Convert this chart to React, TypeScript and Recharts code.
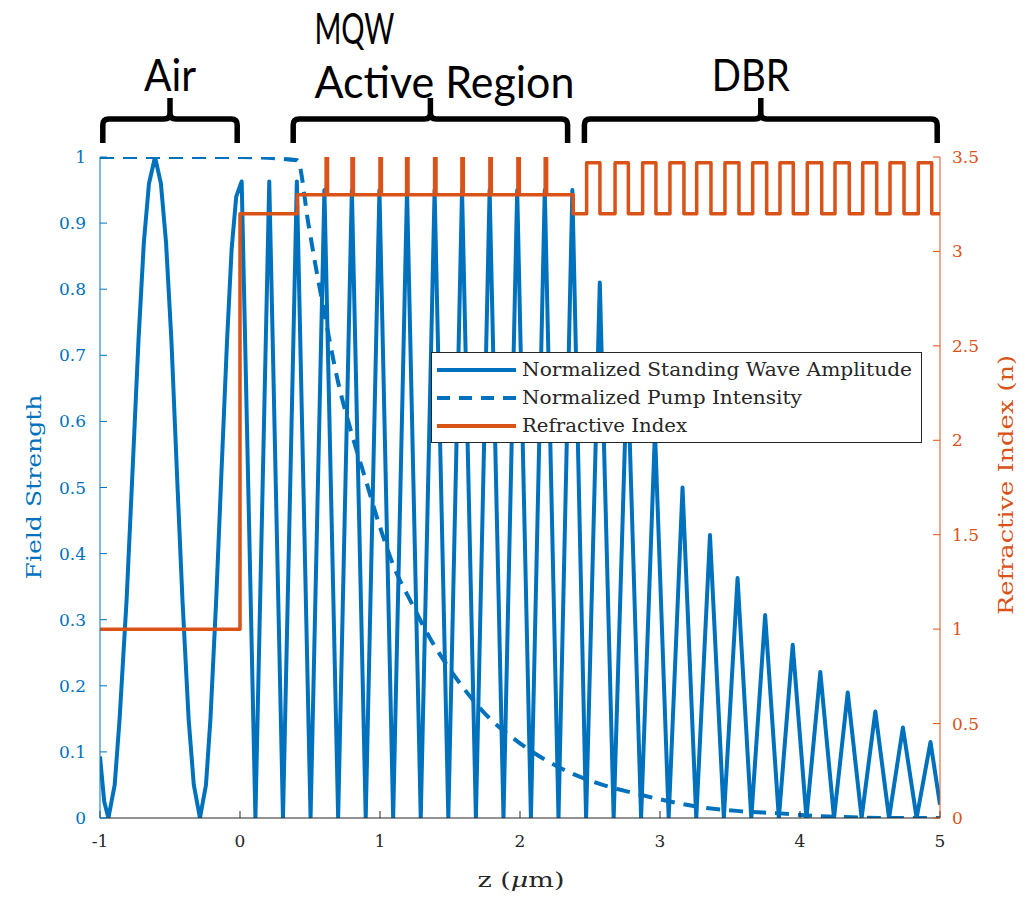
import React from 'react';
import { LineChart, Line, XAxis, YAxis, Legend } from 'recharts';

const W = 1026;
const H = 897;
const PLOT_LEFT = 100;
const PLOT_RIGHT = 940;
const PLOT_TOP = 157;
const X_MIN = -1;
const X_MAX = 5;

const BLUE = '#0072BD';
const ORANGE = '#D95319';
const AXIS = '#262626';
const SERIF = 'DejaVu Serif, Liberation Serif, serif';
const SANS = 'Lato, Liberation Sans, sans-serif';

const xTicks = [-1, 0, 1, 2, 3, 4, 5];
const leftTicks = [0, 0.1, 0.2, 0.3, 0.4, 0.5, 0.6, 0.7, 0.8, 0.9, 1];
const rightTicks = [0, 0.5, 1, 1.5, 2, 2.5, 3, 3.5];

// standing wave in air (z in um)
const airZ = [
  -1, -0.97, -0.94, -0.895, -0.86, -0.81, -0.773, -0.725, -0.687, -0.65, -0.607,
  -0.565, -0.528, -0.49, -0.446, -0.411, -0.367, -0.33, -0.286,
  -0.243, -0.211, -0.17, -0.137, -0.093, -0.06, -0.027,
];
const airAmp = [
  0.093, 0.025, 0, 0.05, 0.15, 0.33, 0.5, 0.723, 0.87, 0.96, 1.0,
  0.96, 0.87, 0.723, 0.5, 0.33, 0.15, 0.05, 0,
  0.05, 0.15, 0.33, 0.5, 0.72, 0.86, 0.94,
];

// antinodes inside the semiconductor
const peakZ = [
  0.012, 0.209, 0.406, 0.603, 0.799, 0.996, 1.193, 1.39, 1.586, 1.783, 1.98, 2.177, 2.374,
  2.57, 2.767, 2.964, 3.161, 3.357, 3.554, 3.751, 3.948, 4.145, 4.341, 4.538, 4.735, 4.932,
];
const peakAmp = [
  0.963, 0.963, 0.963, 0.95, 0.95, 0.95, 0.95, 0.95, 0.95, 0.95, 0.95, 0.95, 0.95,
  0.81, 0.69, 0.585, 0.5, 0.428, 0.363, 0.307, 0.262, 0.221, 0.19, 0.161, 0.137, 0.115,
];
// nodes between them
const nodeZ = [
  0.11, 0.307, 0.504, 0.701, 0.898, 1.094, 1.291, 1.488, 1.685, 1.882, 2.078, 2.275, 2.472,
  2.669, 2.865, 3.062, 3.259, 3.456, 3.652, 3.849, 4.046, 4.243, 4.44, 4.636, 4.833,
];
const waveEnd = { z: 5, amp: 0.02 };

// pump intensity
const pumpZ = [-1, 0, 0.41, 0.49, 0.536, 0.593, 0.7, 0.8, 0.9, 1.0, 1.1, 1.226, 1.357, 1.536, 1.736, 2.0, 2.286, 2.548, 2.807, 3.071, 3.334, 3.593, 3.857, 4.12, 4.38, 4.664, 5];
const pumpVal = [1, 1, 0.995, 0.897, 0.84, 0.775, 0.66, 0.58, 0.51, 0.44, 0.38, 0.325, 0.272, 0.214, 0.161, 0.113, 0.076, 0.053, 0.038, 0.025, 0.015, 0.01, 0.007, 0.003, 0.001, 0, 0];

// refractive index profile
const N_AIR = 1.0;
const N_CAP = 3.2;
const N_BARRIER = 3.3;
const N_QW = 3.5;
const N_DBR_HI = 3.47;
const N_DBR_LO = 3.2;
const capZ = 0;
const barrierZ = 0.41;
const qwZ = [0.615, 0.8, 1.0, 1.19, 1.39, 1.585, 1.785, 1.985, 2.18];
const qwWidth = 0.01;
const activeEndZ = 2.38;
const dbrRiseZ = [2.476, 2.679, 2.876, 3.071, 3.262, 3.464, 3.662, 3.857, 4.052, 4.25, 4.448, 4.643, 4.845];
const dbrFallZ = [2.571, 2.774, 2.971, 3.171, 3.364, 3.564, 3.762, 3.952, 4.155, 4.352, 4.548, 4.743, 4.941];

const regions = [
  { from: -0.98, to: -0.02, texts: [{ t: 'Air', dx: 0, y: 91, len: 52, size: 44 }] },
  {
    from: 0.38,
    to: 2.34,
    texts: [
      { t: 'MQW', dx: -76, y: 44, len: 80, size: 42 },
      { t: 'Active Region', dx: 14, y: 98, len: 260, size: 44 },
    ],
  },
  { from: 2.46, to: 4.98, texts: [{ t: 'DBR', dx: -10, y: 91, len: 78, size: 44 }] },
];

const waveData: { z: number; amp: number }[] = [];
airZ.forEach((z, i) => waveData.push({ z, amp: airAmp[i] }));
peakZ.forEach((z, i) => {
  waveData.push({ z, amp: peakAmp[i] });
  if (i < nodeZ.length) waveData.push({ z: nodeZ[i], amp: 0 });
});
waveData.push(waveEnd);

const pumpData = pumpZ.map((z, i) => ({ z, pump: pumpVal[i] }));

const indexData: { z: number; n: number }[] = [
  { z: X_MIN, n: N_AIR },
  { z: capZ, n: N_CAP },
  { z: barrierZ, n: N_BARRIER },
];
qwZ.forEach((z) => {
  indexData.push({ z, n: N_QW });
  indexData.push({ z: z + qwWidth, n: N_BARRIER });
});
indexData.push({ z: activeEndZ, n: N_DBR_LO });
dbrRiseZ.forEach((z, i) => {
  indexData.push({ z, n: N_DBR_HI });
  indexData.push({ z: dbrFallZ[i], n: N_DBR_LO });
});
indexData.push({ z: X_MAX, n: N_DBR_LO });

const zToPx = (z: number) => PLOT_LEFT + ((z - X_MIN) / (X_MAX - X_MIN)) * (PLOT_RIGHT - PLOT_LEFT);

const legendItems = [
  { label: 'Normalized Standing Wave Amplitude', color: BLUE, dash: undefined as string | undefined, len: 390 },
  { label: 'Normalized Pump Intensity', color: BLUE, dash: '13 9', len: 280 },
  { label: 'Refractive Index', color: ORANGE, dash: undefined, len: 165 },
];

function LegendBox() {
  return (
    <svg width={491} height={91} style={{ display: 'block' }}>
      <rect x={0.5} y={0.5} width={490} height={90} fill="#fff" stroke={AXIS} strokeWidth={1} />
      {legendItems.map((it, i) => {
        const cy = 18 + i * 28;
        return (
          <g key={it.label}>
            <line x1={6} x2={85} y1={cy} y2={cy} stroke={it.color} strokeWidth={4} strokeDasharray={it.dash} />
            <text
              x={91}
              y={cy + 6}
              fontFamily={SERIF}
              fontSize={19}
              fill={AXIS}
              textLength={it.len}
              lengthAdjust="spacingAndGlyphs"
            >
              {it.label}
            </text>
          </g>
        );
      })}
    </svg>
  );
}

function Overlay() {
  return (
    <svg width={W} height={H} style={{ position: 'absolute', left: 0, top: 0, pointerEvents: 'none' }}>
      {regions.map((r) => {
        const x0 = zToPx(r.from);
        const x1 = zToPx(r.to);
        const xc = (x0 + x1) / 2;
        const y = 119;
        const rr = 6;
        const d = `M ${x0} 143 L ${x0} ${y + rr} Q ${x0} ${y} ${x0 + rr} ${y} L ${xc - rr} ${y} Q ${xc} ${y} ${xc} ${y - rr} L ${xc} 98 M ${xc} ${y - rr} Q ${xc} ${y} ${xc + rr} ${y} L ${x1 - rr} ${y} Q ${x1} ${y} ${x1} ${y + rr} L ${x1} 143`;
        return (
          <g key={r.from}>
            <path d={d} fill="none" stroke="#000" strokeWidth={5.5} />
            {r.texts.map((tx) => (
              <text
                key={tx.t}
                x={xc + tx.dx}
                y={tx.y}
                textAnchor="middle"
                fontFamily={SANS}
                fontSize={tx.size}
                fill="#000"
                textLength={tx.len}
                lengthAdjust="spacingAndGlyphs"
              >
                {tx.t}
              </text>
            ))}
          </g>
        );
      })}
      <text
        transform="translate(41 487) rotate(-90)"
        textAnchor="middle"
        fontFamily={SERIF}
        fontSize={20}
        fill={BLUE}
        textLength={185}
        lengthAdjust="spacingAndGlyphs"
      >
        Field Strength
      </text>
      <text
        transform="translate(1013 485) rotate(-90)"
        textAnchor="middle"
        fontFamily={SERIF}
        fontSize={20}
        fill={ORANGE}
        textLength={260}
        lengthAdjust="spacingAndGlyphs"
      >
        Refractive Index (n)
      </text>
      <text
        x={521}
        y={887}
        textAnchor="middle"
        fontFamily={SERIF}
        fontSize={20}
        fill={AXIS}
        textLength={87}
        lengthAdjust="spacingAndGlyphs"
      >
        z (<tspan fontStyle="italic">μ</tspan>m)
      </text>
    </svg>
  );
}

export default function App() {
  return (
    <div style={{ position: 'absolute', left: 0, top: 0, width: W, height: H, background: '#fff' }}>
      <LineChart width={W} height={H} margin={{ top: PLOT_TOP, right: 0, bottom: 0, left: 0 }}>
        <XAxis
          xAxisId="bottom"
          type="number"
          dataKey="z"
          domain={[X_MIN, X_MAX]}
          ticks={xTicks}
          allowDataOverflow
          height={79}
          stroke={AXIS}
          tickSize={-7}
          tickMargin={24}
          tick={{ fill: AXIS, fontSize: 17, fontFamily: SERIF }}
        />
        <XAxis
          xAxisId="top"
          orientation="top"
          type="number"
          dataKey="z"
          domain={[X_MIN, X_MAX]}
          ticks={xTicks}
          allowDataOverflow
          height={0}
          stroke={AXIS}
          tickSize={-7}
          tickFormatter={() => ''}
        />
        <YAxis
          yAxisId="left"
          type="number"
          domain={[0, 1]}
          ticks={leftTicks}
          allowDataOverflow
          width={100}
          stroke={BLUE}
          tickSize={-7}
          tickMargin={21}
          tick={{ fill: BLUE, fontSize: 17, fontFamily: SERIF }}
        />
        <YAxis
          yAxisId="right"
          orientation="right"
          type="number"
          domain={[0, 3.5]}
          ticks={rightTicks}
          allowDataOverflow
          width={86}
          stroke={ORANGE}
          tickSize={-7}
          tickMargin={19}
          tick={{ fill: ORANGE, fontSize: 17, fontFamily: SERIF }}
        />
        <Line
          data={waveData}
          xAxisId="bottom"
          yAxisId="left"
          dataKey="amp"
          type="linear"
          stroke={BLUE}
          strokeWidth={4}
          strokeLinejoin="round"
          dot={false}
          isAnimationActive={false}
        />
        <Line
          data={pumpData}
          xAxisId="bottom"
          yAxisId="left"
          dataKey="pump"
          type="monotone"
          stroke={BLUE}
          strokeWidth={4}
          strokeDasharray="14 9"
          dot={false}
          isAnimationActive={false}
        />
        <Line
          data={indexData}
          xAxisId="bottom"
          yAxisId="right"
          dataKey="n"
          type="stepAfter"
          stroke={ORANGE}
          strokeWidth={3.5}
          strokeLinejoin="round"
          dot={false}
          isAnimationActive={false}
        />
        <Legend
          align="center"
          verticalAlign="middle"
          content={() => <LegendBox />}
          wrapperStyle={{ position: 'absolute', left: 431, top: 352, width: 491, height: 91 }}
        />
      </LineChart>
      <Overlay />
    </div>
  );
}
